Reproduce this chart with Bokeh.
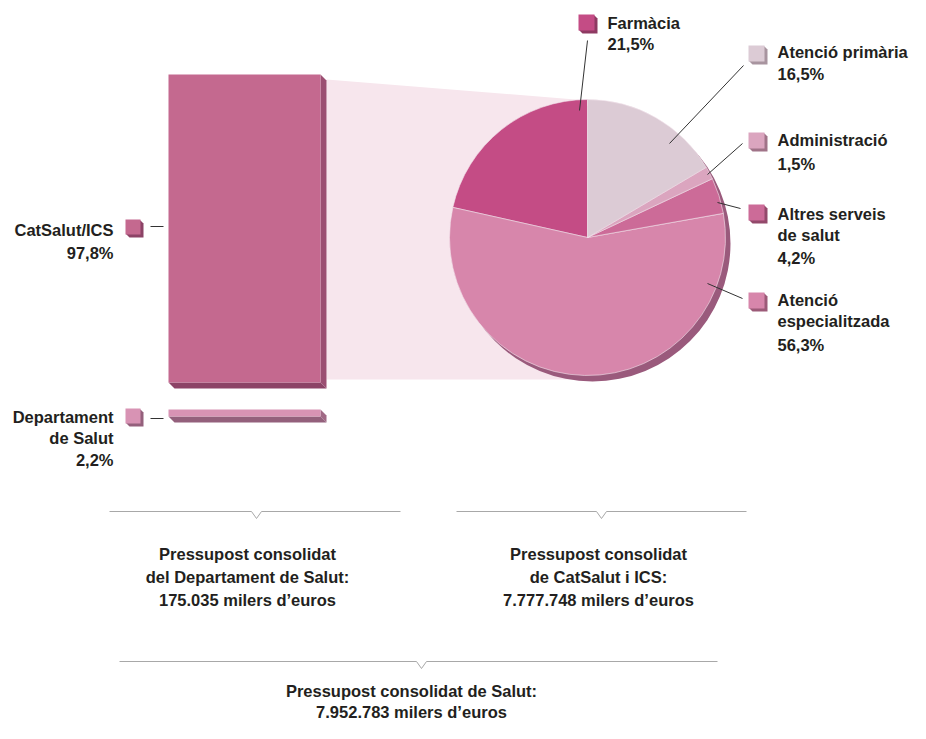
import math
from bokeh.plotting import figure
from bokeh.models import Range1d
from bokeh.core.properties import value
from bokeh.embed import file_html
from bokeh.resources import INLINE

# ---------------- data ----------------
bar_labels = ["CatSalut/ICS", "Departament de Salut"]
bar_values = [97.8, 2.2]

pie_labels = ["Farmàcia", "Atenció especialitzada", "Altres serveis de salut",
              "Administració", "Atenció primària"]
pie_values = [21.5, 56.3, 4.2, 1.5, 16.5]

budget_dept = "175.035"
budget_catsalut = "7.777.748"
budget_total = "7.952.783"

# ---------------- styles ----------------
W, H = 910, 723
FONT = value("Liberation Sans")
FS = "16.5px"
TXT = "#231f20"
bar_colors = ["#c4698f", "#d893b4"]
bar_side = ["#9b4f72", "#a06985"]
bar_bottom = ["#8c4366", "#94607c"]
pie_colors = ["#c44c85", "#d786ab", "#cc6b98", "#dba5bf", "#dccbd5"]
pie_shadows = ["#8e3a62", "#9c5a78", "#93496b", "#a07388", "#a8949f"]


def Y(y):
    """layout y (pixels from top) -> data y"""
    return H - y


def pct(v):
    return f"{v:.1f}".replace(".", ",") + "%"


p = figure(width=W, height=H, output_backend="svg", toolbar_location=None,
           x_range=Range1d(0, W), y_range=Range1d(0, H),
           x_axis_type=None, y_axis_type=None, min_border=0,
           outline_line_color=None, background_fill_color="white",
           border_fill_color="white")
p.xgrid.visible = False
p.ygrid.visible = False


def text(x, y, s, align="left"):
    p.text(x=[x], y=[Y(y)], text=[s], text_font=FONT, text_font_style="bold",
           text_font_size=FS, text_color=TXT, text_align=align,
           text_baseline="middle")


def square(x, y, color, shadow, s=15):
    p.patch([x + 1, x + s, x + s + 3, x + s + 3, x + 4, x + 1],
            [Y(y + 1), Y(y + 1), Y(y + 4), Y(y + s + 3), Y(y + s + 3), Y(y + s)],
            fill_color=shadow, line_color=None)
    p.quad(left=[x], right=[x + s], top=[Y(y)], bottom=[Y(y + s)],
           fill_color=color, line_color=None)


def seg(x0, y0, x1, y1, color="#333333", w=1):
    p.line([x0, x1], [Y(y0), Y(y1)], line_color=color, line_width=w)


# ---------------- bars ----------------
bar_left, bar_right = 168, 320
bar_tops = [74, 409]
px_per_pct = 308 / bar_values[0]
bar_bots = [bar_tops[i] + v * px_per_pct for i, v in enumerate(bar_values)]

# pie geometry
cx, cy, r = 587, 237, 138

# connector (light band between bar and pie)
p.patch([bar_right + 6, cx, cx, bar_right + 6],
        [Y(bar_tops[0] + 5), Y(cy - r + 1), Y(bar_bots[0] - 3), Y(bar_bots[0] - 3)],
        fill_color="#f7e6ed", line_color=None)

for i, v in enumerate(bar_values):
    top, bot = bar_tops[i], bar_bots[i]
    d = 6
    p.patch([bar_right, bar_right + d, bar_right + d, bar_right],
            [Y(top), Y(top + d), Y(bot + d), Y(bot)],
            fill_color=bar_side[i], line_color=None)
    p.patch([bar_left, bar_right, bar_right + d, bar_left + d],
            [Y(bot), Y(bot), Y(bot + d), Y(bot + d)],
            fill_color=bar_bottom[i], line_color=None)
    p.quad(left=[bar_left], right=[bar_right], top=[Y(top)], bottom=[Y(bot)],
           fill_color=bar_colors[i], line_color=None)

# bar labels
square(125, 219, bar_colors[0], bar_bottom[0])
seg(150, 226, 163, 226)
text(113, 229, bar_labels[0], "right")
text(113, 252, pct(bar_values[0]), "right")

square(125, 408, bar_colors[1], bar_bottom[1])
seg(150, 418, 163, 418)
text(113, 416, "Departament", "right")
text(113, 437, "de Salut", "right")
text(113, 459, pct(bar_values[1]), "right")

# ---------------- pie ----------------
p.circle(x=[cx + 5], y=[Y(cy + 6)], radius=r, fill_color="#9a5a7c", line_color=None)
starts, ends = [], []
a = 90.0
for v in pie_values:
    starts.append(math.radians(a))
    a += 360.0 * v / 100.0
    ends.append(math.radians(a))
p.wedge(x=cx, y=Y(cy), radius=r, start_angle=starts, end_angle=ends,
        fill_color=pie_colors, line_color="#f4e4ec", line_width=0.6)

# pie labels: (square x, square y, text x, [(line, y)], leader)
SQX, TX = 748, 777
pie_label_layout = [
    (578, 14, 607, [("Farmàcia", 22), (pct(pie_values[0]), 43)], (587, 40, 579, 110)),
    (SQX, 292, TX, [("Atenció", 299), ("especialitzada", 320), (pct(pie_values[1]), 344)],
     (SQX - 6, 298, 707, 283)),
    (SQX, 204, TX, [("Altres serveis", 213), ("de salut", 234), (pct(pie_values[2]), 257)],
     (SQX - 8, 208, 717, 202)),
    (SQX, 132, TX, [("Administració", 139), (pct(pie_values[3]), 163)],
     (SQX - 6, 143, 707, 174)),
    (SQX, 45, TX, [("Atenció primària", 51), (pct(pie_values[4]), 73)],
     (SQX - 5, 65, 669, 143)),
]
for i, (sx, sy, tx, lines, ld) in enumerate(pie_label_layout):
    square(sx, sy, pie_colors[i], pie_shadows[i], 16)
    for s, ty in lines:
        text(tx, ty, s)
    seg(*ld)


# ---------------- brackets & totals ----------------
def bracket(x0, x1, xm, y):
    p.line([x0, xm - 5, xm, xm + 5, x1], [Y(y), Y(y), Y(y + 7), Y(y), Y(y)],
           line_color="#a8a8a8", line_width=1)


bracket(109, 400, 256, 511)
bracket(456, 746, 601, 511)
bracket(119, 717, 421, 661)

text(247, 553, "Pressupost consolidat", "center")
text(247, 576, "del Departament de Salut:", "center")
text(247, 599, f"{budget_dept} milers d’euros", "center")

text(598, 553, "Pressupost consolidat", "center")
text(598, 576, "de CatSalut i ICS:", "center")
text(598, 599, f"{budget_catsalut} milers d’euros", "center")

text(411, 690, "Pressupost consolidat de Salut:", "center")
text(411, 711, f"{budget_total} milers d’euros", "center")

open("out.html", "w").write(file_html(p, INLINE))
